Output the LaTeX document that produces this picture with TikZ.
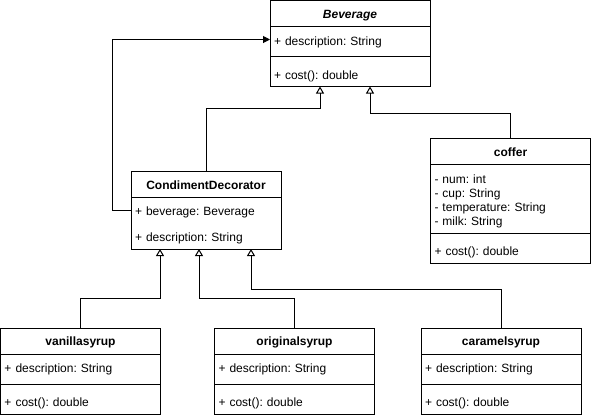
\documentclass[tikz,border=0pt]{standalone}
\usepackage{fontspec}
\setmainfont{Liberation Sans}
\frenchspacing
\usetikzlibrary{positioning,arrows.meta}

\begin{document}
\begin{tikzpicture}[x=1pt, y=-1pt, line width=1pt,
	classname/.style={draw, font=\fontsize{12}{14}\selectfont\bfseries, minimum width=160pt, minimum height=26pt, inner sep=0pt, outer sep=0pt, execute at begin node={\rule{0pt}{12pt}}},
	member/.style={font=\fontsize{12}{14}\selectfont, text width=152pt, inner xsep=4pt, inner ysep=0pt, minimum height=26pt, outer sep=0pt, align=left, execute at begin node={\rule{0pt}{14pt}}},
	extends/.style={-{Triangle[open, width=8pt, length=7pt]}},
	uses/.style={-{Triangle[width=7pt, length=7pt]}}]
	\useasboundingbox (0,0) rectangle (591,418);

	% Beverage
	\node[classname, font=\fontsize{12}{14}\selectfont\bfseries\itshape] (bev) at (350, 13.5) {Beverage};
	\node[member, below=0pt of bev] (bevattr) {+ description: String};
	\node[member, below=8pt of bevattr] (bevops) {+ cost(): double};
	\draw (bev.north west) rectangle (bevops.south east);
	\draw ([yshift=-4pt]bevattr.south west) -- ([yshift=-4pt]bevattr.south east);

	% CondimentDecorator
	\node[classname, minimum width=150pt] (cd) at (206, 184) {CondimentDecorator};
	\node[member, text width=142pt, below=0pt of cd] (cdattr) {+ beverage: Beverage};
	\node[member, text width=142pt, below=0pt of cdattr] (cdattr2) {+ description: String};
	\draw (cd.north west) rectangle (cdattr2.south east);

	% coffer
	\node[classname] (coffer) at (510.5, 151) {coffer};
	\node[member, below=0pt of coffer, minimum height=65pt, execute at begin node={\rule{0pt}{19pt}}] (cofferattr) {- num: int\\- cup: String\\- temperature: String\\- milk: String};
	\node[member, below=8pt of cofferattr] (cofferops) {+ cost(): double};
	\draw (coffer.north west) rectangle (cofferops.south east);
	\draw ([yshift=-4pt]cofferattr.south west) -- ([yshift=-4pt]cofferattr.south east);

	% syrups
	\node[classname] (vanilla) at (80.5, 341) {vanillasyrup};
	\node[member, below=0pt of vanilla] (vanillaattr) {+ description: String};
	\node[member, below=8pt of vanillaattr] (vanillaops) {+ cost(): double};
	\draw (vanilla.north west) rectangle (vanillaops.south east);
	\draw ([yshift=-4pt]vanillaattr.south west) -- ([yshift=-4pt]vanillaattr.south east);

	\node[classname] (orig) at (294.5, 341) {originalsyrup};
	\node[member, below=0pt of orig] (origattr) {+ description: String};
	\node[member, below=8pt of origattr] (origops) {+ cost(): double};
	\draw (orig.north west) rectangle (origops.south east);
	\draw ([yshift=-4pt]origattr.south west) -- ([yshift=-4pt]origattr.south east);

	\node[classname] (caramel) at (501, 341) {caramelsyrup};
	\node[member, below=0pt of caramel] (caramelattr) {+ description: String};
	\node[member, below=8pt of caramelattr] (caramelops) {+ cost(): double};
	\draw (caramel.north west) rectangle (caramelops.south east);
	\draw ([yshift=-4pt]caramelattr.south west) -- ([yshift=-4pt]caramelattr.south east);

	% Draw the connectors
	\draw[uses] (cdattr.west) -- ++(-19,0) |- (bevattr.west);
	\draw[extends] (cd.north) -- ++(0,-63) -| ([xshift=-30pt]bevops.south);
	\draw[extends] (coffer.north) -- ++(0,-25) -| ([xshift=20pt]bevops.south);
	\draw[extends] (vanilla.north) -- ++(0,-30) -| ([xshift=-46pt]cdattr2.south);
	\draw[extends] (orig.north) -- ++(0,-30) -| ([xshift=-7pt]cdattr2.south);
	\draw[extends] (caramel.north) -- ++(0,-39) -| ([xshift=45pt]cdattr2.south);
\end{tikzpicture}
\end{document}
